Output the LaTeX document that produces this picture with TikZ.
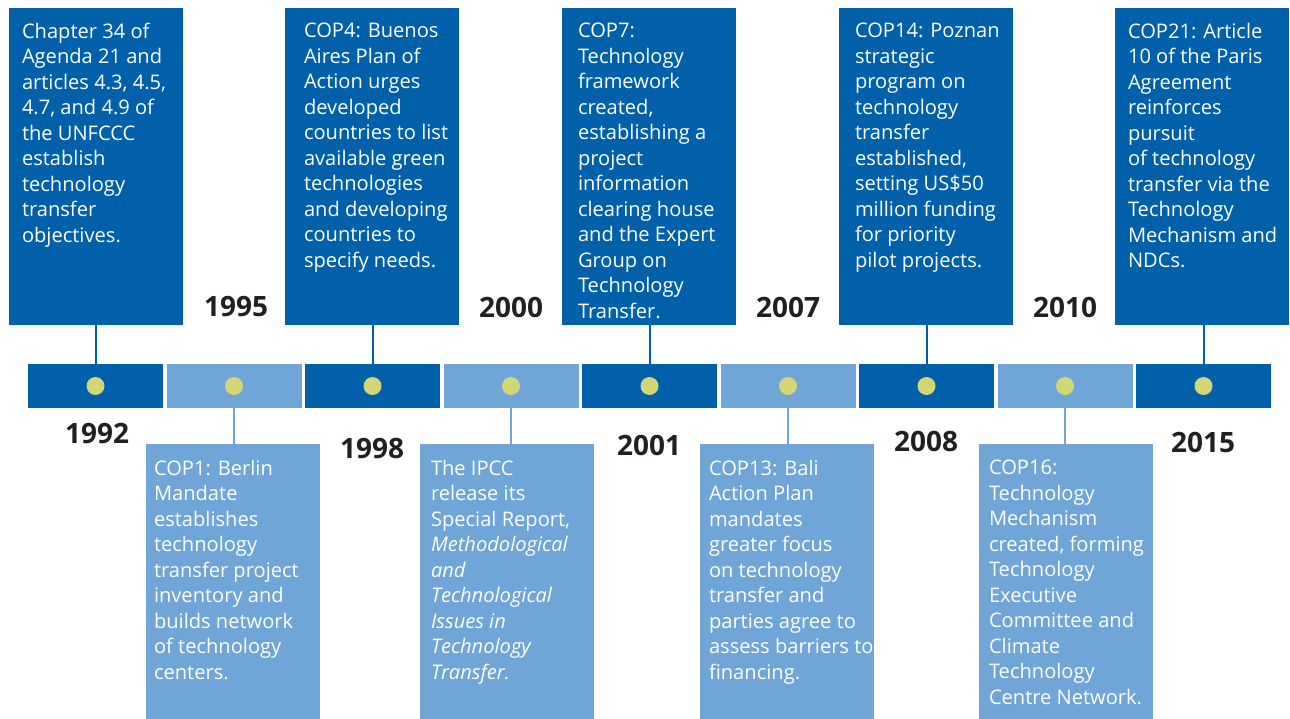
\documentclass[tikz,border=0pt]{standalone}
\usepackage{fontspec}
\setmainfont{Open Sans}
\usepackage{tikz}
\usetikzlibrary{positioning}
\definecolor{darkblue}{RGB}{0,96,169}
\definecolor{lightblue}{RGB}{111,165,215}
\definecolor{lime}{RGB}{211,214,117}
\definecolor{ink}{RGB}{35,31,32}
\tikzset{dseg/.style={fill=darkblue,inner sep=0pt,minimum width=135pt,minimum height=44pt}}
\tikzset{lseg/.style={dseg,fill=lightblue}}
\tikzset{dbox/.style={fill=darkblue,inner sep=0pt,minimum width=174pt,minimum height=317pt}}
\tikzset{lbox/.style={fill=lightblue,inner sep=0pt,minimum width=174pt,minimum height=275pt}}
\tikzset{bead/.style={circle,fill=lime,inner sep=0pt,minimum size=18pt}}
\tikzset{dline/.style={draw=darkblue,line width=2pt}}
\tikzset{lline/.style={draw=lightblue,line width=2pt}}
\tikzset{txt/.style={white,inner sep=0pt,align=left,font=\fontsize{20.1}{25.5}\selectfont}}
\tikzset{yr/.style={ink,inner sep=0pt,font=\fontsize{28}{28}\selectfont\bfseries}}

\begin{document}
\begin{tikzpicture}[x=1pt,y=-1pt]
  \useasboundingbox (0,0) rectangle (1290,719);
  % upper boxes
  \node (up1) at (96,166.5) [dbox] {};
  \node (up2) at (372,166.5) [dbox] {};
  \node (up3) at (649,166.5) [dbox] {};
  \node (up4) at (926,166.5) [dbox] {};
  \node (up5) at (1202,166.5) [dbox] {};
  % lower boxes
  \node (lo1) at (233,581.5) [lbox] {};
  \node (lo2) at (507,581.5) [lbox] {};
  \node (lo3) at (787,581.5) [lbox] {};
  \node (lo4) at (1066,581.5) [lbox] {};
  % timeline
  \node (s1) at (95.5,386) [dseg] {} edge [dline] (s1 |- up1.south);
  \node (s2) at (234,386) [lseg] {} edge [lline] (s2 |- lo1.north);
  \node (s3) at (372.5,386) [dseg] {} edge [dline] (s3 |- up2.south);
  \node (s4) at (511,386) [lseg] {} edge [lline] (s4 |- lo2.north);
  \node (s5) at (649.5,386) [dseg] {} edge [dline] (s5 |- up3.south);
  \node (s6) at (788,386) [lseg] {} edge [lline] (s6 |- lo3.north);
  \node (s7) at (926.5,386) [dseg] {} edge [dline] (s7 |- up4.south);
  \node (s8) at (1065,386) [lseg] {} edge [lline] (s8 |- lo4.north);
  \node (s9) at (1203.5,386) [dseg] {} edge [dline] (s9 |- up5.south);
  \node (b1) at (s1) [bead] {};
  \node (b2) at (s2) [bead] {};
  \node (b3) at (s3) [bead] {};
  \node (b4) at (s4) [bead] {};
  \node (b5) at (s5) [bead] {};
  \node (b6) at (s6) [bead] {};
  \node (b7) at (s7) [bead] {};
  \node (b8) at (s8) [bead] {};
  \node (b9) at (s9) [bead] {};
  % years
  \node (y1992) at (97,433) [yr] {1992};
  \node (y1995) at (236,307) [yr] {1995};
  \node (y1998) at (372,449) [yr] {1998};
  \node (y2000) at (511,307) [yr] {2000};
  \node (y2001) at (649,445) [yr] {2001};
  \node (y2007) at (788,307) [yr] {2007};
  \node (y2008) at (926,441) [yr] {2008};
  \node (y2010) at (1065,307) [yr] {2010};
  \node (y2015) at (1203,442) [yr] {2015};
  % texts
  \node (up1t) [txt, below right=15pt and 13pt of up1.north west]
    {Chapter 34 of\\Agenda 21 and\\articles 4.3, 4.5,\\4.7, and 4.9 of\\the UNFCCC\\establish\\technology\\transfer\\objectives.};
  \node (up2t) [txt, below right=15pt and 19pt of up2.north west]
    {COP4: Buenos\\Aires Plan of\\Action urges\\developed\\countries to list\\available green\\technologies\\and developing\\countries to\\specify needs.};
  \node (up3t) [txt, below right=15pt and 16pt of up3.north west]
    {COP7:\\Technology\\framework\\created,\\establishing a\\project\\information\\clearing house\\and the Expert\\Group on\\Technology\\Transfer.};
  \node (up4t) [txt, below right=15pt and 16pt of up4.north west]
    {COP14: Poznan\\strategic\\program on\\technology\\transfer\\established,\\setting US\$50\\million funding\\for priority\\pilot projects.};
  \node (up5t) [txt, below right=15pt and 13pt of up5.north west]
    {COP21: Article\\10 of the Paris\\Agreement\\reinforces\\pursuit\\of technology\\transfer via the\\Technology\\Mechanism and\\NDCs.};
  \node (lo1t) [txt, below right=16pt and 8pt of lo1.north west]
    {COP1: Berlin\\Mandate\\establishes\\technology\\transfer project\\inventory and\\builds network\\of technology\\centers.};
  \node (lo2t) [txt, below right=16pt and 11pt of lo2.north west]
    {The IPCC\\release its\\Special Report,\\\textit{Methodological}\\\textit{and}\\\textit{Technological}\\\textit{Issues in}\\\textit{Technology}\\\textit{Transfer.}};
  \node (lo3t) [txt, below right=16pt and 9pt of lo3.north west]
    {COP13: Bali\\Action Plan\\mandates\\greater focus\\on technology\\transfer and\\parties agree to\\assess barriers to\\financing.};
  \node (lo4t) [txt, below right=16pt and 10pt of lo4.north west]
    {COP16:\\Technology\\Mechanism\\created, forming\\Technology\\Executive\\Committee and\\Climate\\Technology\\Centre Network.};
\end{tikzpicture}
\end{document}
